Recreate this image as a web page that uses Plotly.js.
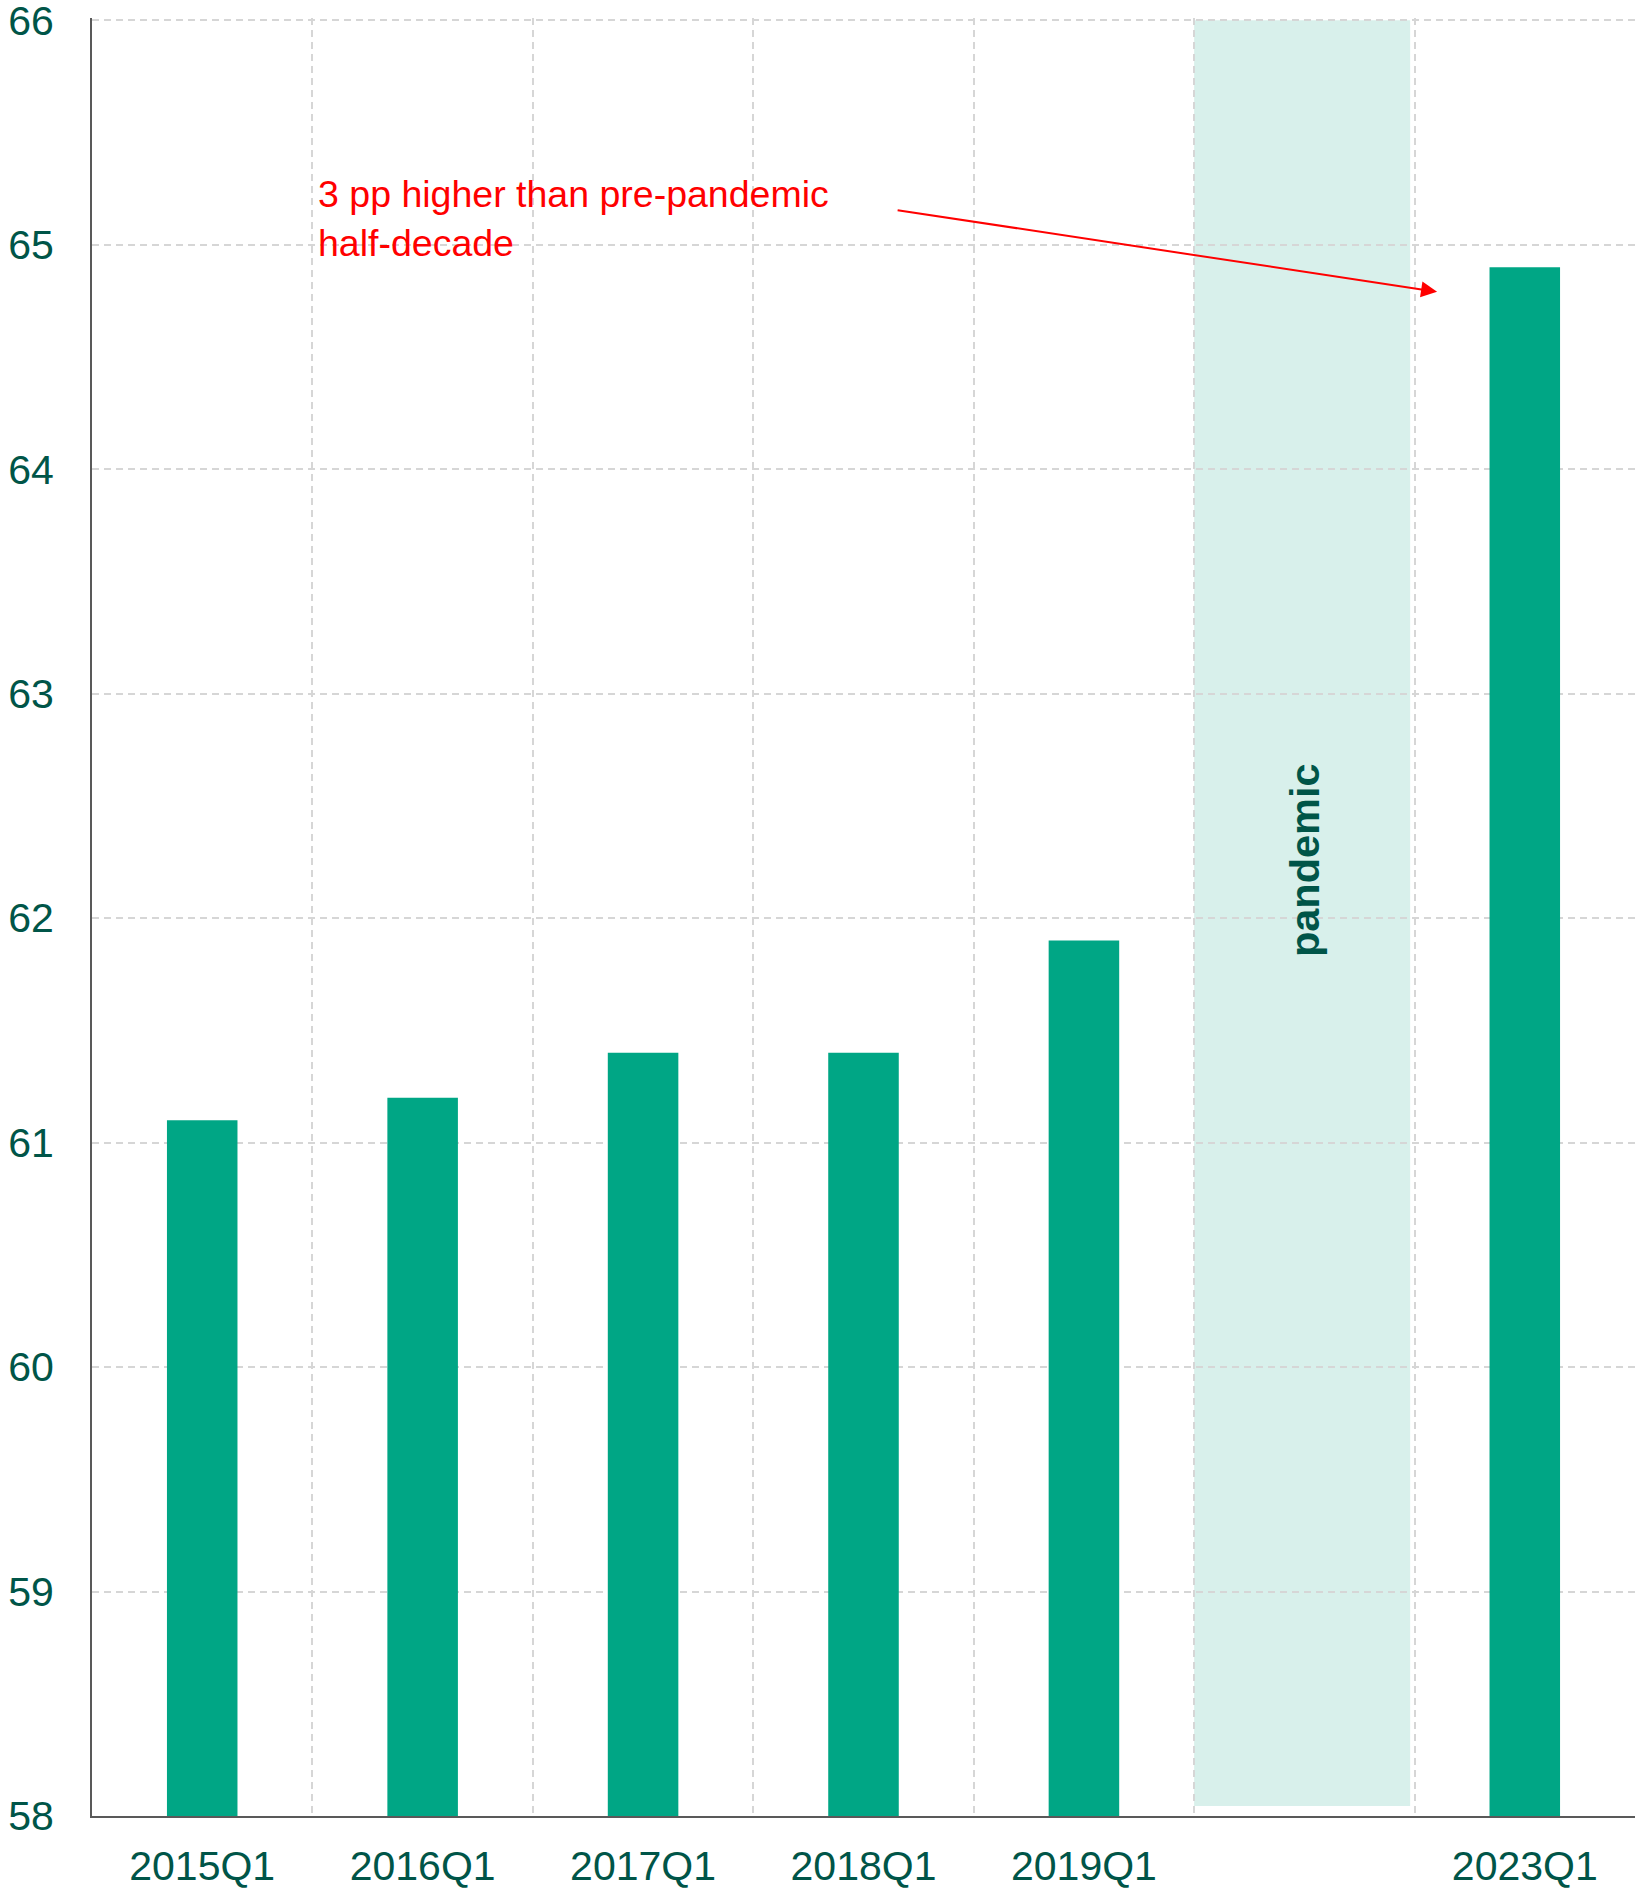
<!DOCTYPE html>
<html>
<head>
<meta charset="utf-8">
<script src="https://cdn.plot.ly/plotly-3.0.1.min.js"></script>
<style>
  html, body { margin: 0; padding: 0; background: #ffffff; }
  #chart { width: 1639px; height: 1892px; }
</style>
</head>
<body>
<div id="chart"></div>
<script>
// Quarterly values, one bar per year; the blank slot marks the pandemic years
const categories = ["2015Q1", "2016Q1", "2017Q1", "2018Q1", "2019Q1", " ", "2023Q1"];
const values = [61.1, 61.2, 61.4, 61.4, 61.9, null, 64.9];

const yTicks = [58, 59, 60, 61, 62, 63, 64, 65, 66];

const noteText = "3 pp higher than pre-pandemic<br>half-decade";
const bandLabel = "pandemic";

const FONT = 'Arial, "Liberation Sans", sans-serif';
const TEAL_DARK = "#005548";
const BAR_COLOR = "#00A685";
const GRID = "#D6D6D6";

const trace = {
  type: "bar",
  x: categories,
  y: values,
  marker: { color: BAR_COLOR, line: { width: 0 } },
  hoverinfo: "x+y"
};

// range top nudged just past 66 so the top gridline stays drawn
const Y_RANGE = [58, 66.01];

const layout = {
  width: 1639,
  height: 1892,
  margin: { l: 92, r: 4, t: 18, b: 76, pad: 0 },
  paper_bgcolor: "#ffffff",
  plot_bgcolor: "#ffffff",
  showlegend: false,
  bargap: 0.68,
  font: { family: FONT, color: TEAL_DARK, size: 41 },
  xaxis: {
    type: "category",
    categoryorder: "array",
    categoryarray: categories,
    tickson: "boundaries",
    ticks: "",
    showgrid: true,
    gridcolor: GRID,
    gridwidth: 2,
    griddash: "7px,5px",
    showline: true,
    linecolor: "#595959",
    linewidth: 2,
    zeroline: false,
    ticklabelstandoff: 13,
    ticklabeloverflow: "allow",
    tickfont: { family: FONT, size: 41, color: TEAL_DARK },
    fixedrange: true
  },
  yaxis: {
    range: Y_RANGE,
    tickvals: yTicks,
    ticktext: yTicks.map(String),
    ticks: "",
    showgrid: true,
    gridcolor: GRID,
    gridwidth: 2,
    griddash: "7px,5px",
    showline: true,
    linecolor: "#595959",
    linewidth: 2,
    zeroline: false,
    ticklabelstandoff: 28,
    ticklabeloverflow: "allow",
    tickfont: { family: FONT, size: 41, color: TEAL_DARK },
    fixedrange: true
  },
  shapes: [
    {
      type: "rect",
      layer: "below",
      xref: "x", yref: "y",
      x0: 4.5, x1: 5.48,
      y0: 58.045, y1: 66,
      fillcolor: "#D8F0EB",
      line: { width: 0 }
    }
  ],
  annotations: [
    {
      xref: "x", yref: "y",
      x: 5.0, y: 62.26,
      text: "<b>" + bandLabel + "</b>",
      textangle: -90,
      showarrow: false,
      font: { family: FONT, size: 41.5, color: TEAL_DARK }
    },
    {
      xref: "paper", yref: "paper",
      x: (316 - 92) / 1543, y: 1 - (171 - 18) / 1798,
      xanchor: "left", yanchor: "top",
      align: "left",
      text: noteText,
      showarrow: false,
      font: { family: FONT, size: 37.5, color: "#FF0000" }
    },
    {
      xref: "x", yref: "y",
      axref: "x", ayref: "y",
      x: 5.602, y: 64.79,
      ax: 3.148, ay: 65.155,
      text: "",
      showarrow: true,
      arrowhead: 2,
      arrowsize: 1.6,
      arrowwidth: 2,
      arrowcolor: "#FF0000",
      standoff: 0,
      startstandoff: 0
    }
  ]
};

Plotly.newPlot("chart", [trace], layout, { displayModeBar: false, staticPlot: true });
</script>
</body>
</html>
